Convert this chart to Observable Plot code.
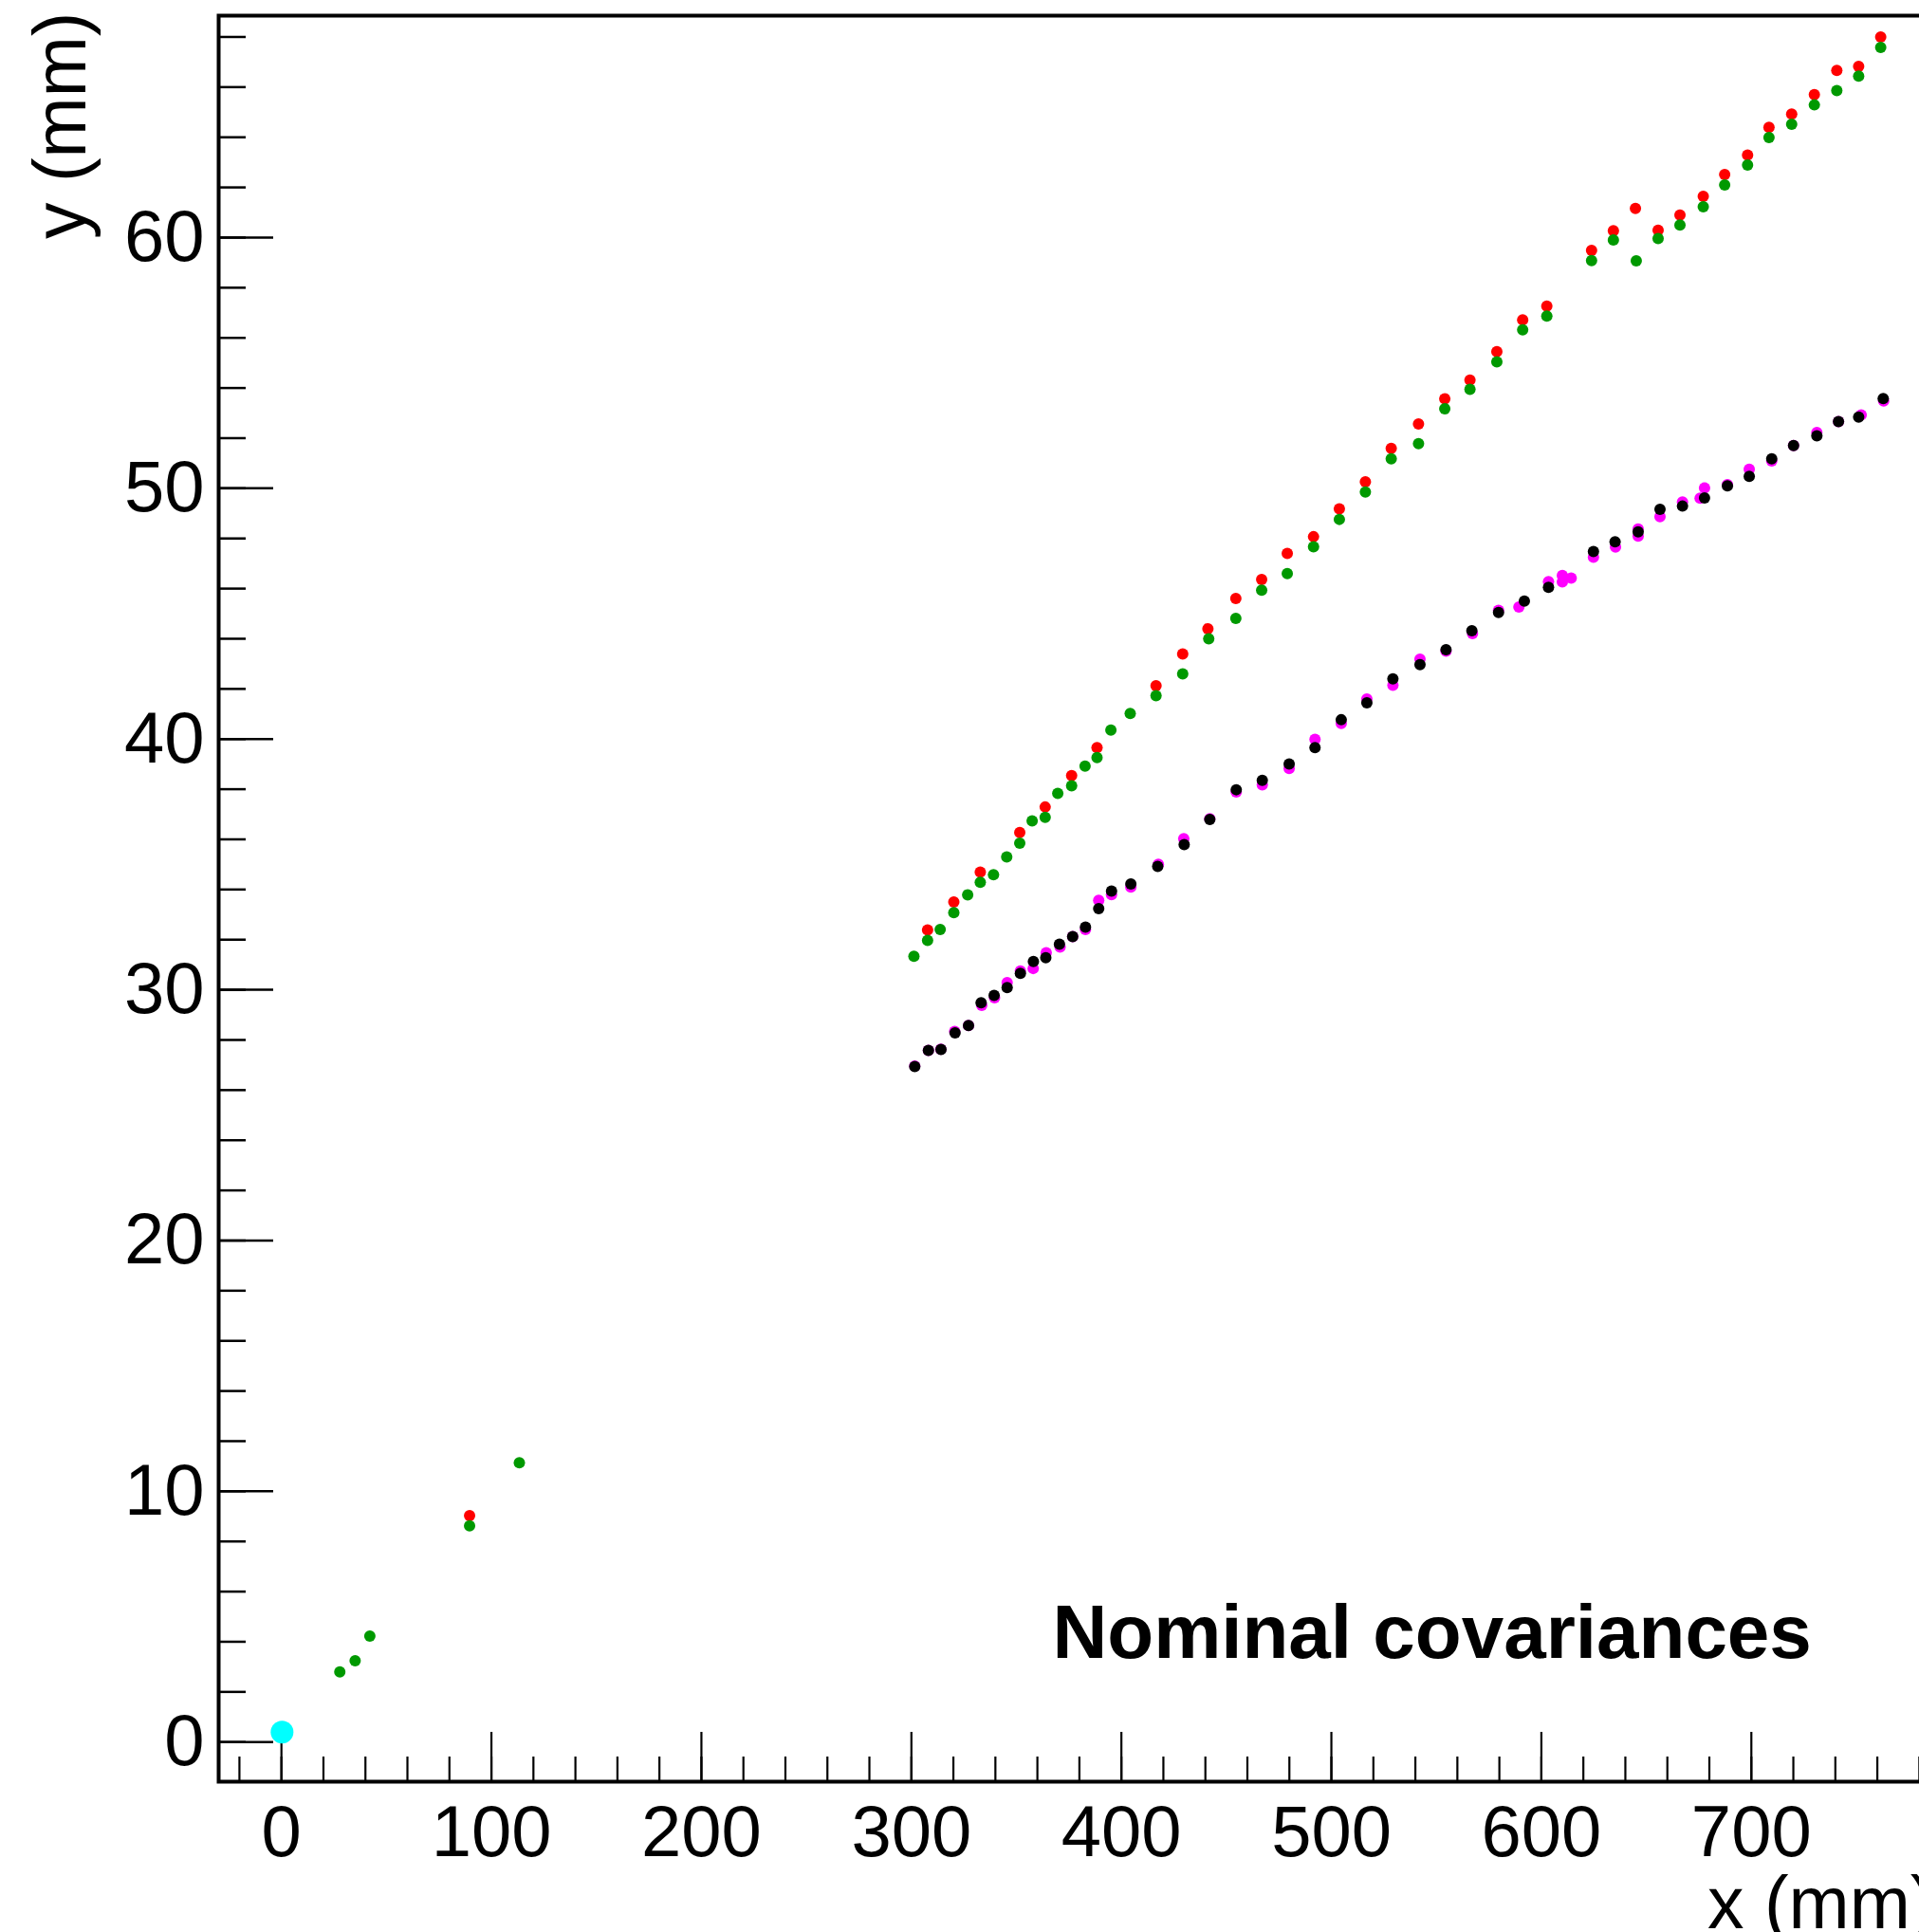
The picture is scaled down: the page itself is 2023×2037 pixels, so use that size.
<!DOCTYPE html>
<html>
<head>
<meta charset="utf-8">
<script src="https://cdn.jsdelivr.net/npm/d3@7"></script>
<script src="https://cdn.jsdelivr.net/npm/@observablehq/plot@0.6"></script>
<style>
  html, body { margin: 0; padding: 0; background: #ffffff; overflow: hidden; }
  #chart svg { display: block; }
</style>
</head>
<body>
<div id="chart"></div>
<script>
// ---- data ----
const vertexX = [0.3];
const vertexY = [0.40];

const redX = [89.6, 307.7, 320.2, 332.8, 351.6, 363.7, 376.3, 388.4, 416.5, 429.2, 441.2, 454.5, 466.8, 479.0, 491.5, 503.8, 516.2, 528.5, 541.5, 554.0, 566.0, 578.8, 591.1, 602.6, 623.9, 634.3, 644.8, 655.6, 666.0, 677.1, 687.3, 698.2, 708.4, 719.2, 730.0, 740.7, 751.1, 761.6];
const redY = [9.03, 32.39, 33.50, 34.69, 36.27, 37.29, 38.54, 39.66, 42.13, 43.39, 44.40, 45.61, 46.36, 47.40, 48.07, 49.18, 50.26, 51.59, 52.57, 53.57, 54.32, 55.45, 56.72, 57.27, 59.49, 60.27, 61.16, 60.29, 60.90, 61.64, 62.51, 63.29, 64.40, 64.93, 65.70, 66.67, 66.83, 68.00];

const greenX = [27.8, 35.1, 42.1, 89.6, 113.3, 301.2, 307.7, 313.7, 320.2, 326.8, 332.8, 339.1, 345.4, 351.6, 357.5, 363.7, 369.7, 376.3, 382.7, 388.4, 395.0, 404.2, 416.5, 429.2, 441.6, 454.5, 466.8, 479.0, 491.5, 503.8, 516.2, 528.5, 541.5, 554.0, 566.0, 578.8, 591.1, 602.6, 623.9, 634.3, 645.2, 655.6, 666.0, 677.1, 687.3, 698.2, 708.4, 719.2, 730.0, 740.7, 751.1, 761.6];
const greenY = [2.80, 3.24, 4.23, 8.62, 11.14, 31.34, 31.97, 32.41, 33.08, 33.79, 34.29, 34.59, 35.30, 35.85, 36.74, 36.88, 37.83, 38.14, 38.92, 39.26, 40.36, 41.02, 41.73, 42.60, 44.00, 44.81, 45.94, 46.60, 47.67, 48.76, 49.85, 51.18, 51.78, 53.17, 53.95, 55.04, 56.32, 56.87, 59.08, 59.90, 59.07, 59.96, 60.50, 61.23, 62.10, 62.89, 63.99, 64.52, 65.29, 65.86, 66.44, 67.58];

const magentaX = [301.6, 308.1, 314.0, 320.6, 327.2, 333.5, 339.6, 345.6, 351.9, 358.0, 364.2, 370.8, 376.8, 382.9, 389.2, 395.3, 404.5, 417.6, 429.7, 442.1, 454.7, 467.1, 479.9, 492.2, 504.7, 516.9, 529.3, 542.2, 554.6, 567.2, 579.6, 589.3, 603.4, 610.0, 610.0, 614.2, 624.8, 635.3, 646.1, 646.1, 656.5, 667.2, 675.6, 677.7, 688.6, 699.0, 709.7, 720.1, 731.2, 741.5, 752.3, 763.0];
const magentaY = [26.96, 27.58, 27.63, 28.34, 28.58, 29.38, 29.68, 30.29, 30.75, 30.85, 31.48, 31.71, 32.12, 32.41, 33.57, 33.80, 34.10, 35.01, 36.03, 36.82, 37.89, 38.17, 38.83, 39.99, 40.62, 41.60, 42.15, 43.19, 43.51, 44.21, 45.13, 45.27, 46.28, 46.52, 46.27, 46.42, 47.25, 47.66, 48.38, 48.09, 48.87, 49.46, 49.61, 50.01, 50.15, 50.76, 51.09, 51.71, 52.23, 52.66, 52.93, 53.48];

const blackX = [301.6, 308.1, 314.1, 320.8, 327.2, 333.2, 339.4, 345.6, 351.9, 358.1, 364.0, 370.5, 376.8, 382.9, 389.2, 395.3, 404.5, 417.3, 429.9, 442.1, 454.7, 467.1, 479.9, 492.2, 504.7, 516.9, 529.3, 542.2, 554.6, 566.9, 579.6, 591.9, 603.4, 624.8, 635.1, 646.1, 656.5, 667.2, 677.7, 688.6, 699.0, 709.7, 720.1, 731.2, 741.5, 751.1, 762.8];
const blackY = [26.94, 27.58, 27.62, 28.28, 28.58, 29.48, 29.78, 30.09, 30.66, 31.13, 31.28, 31.82, 32.12, 32.50, 33.24, 33.94, 34.22, 34.92, 35.79, 36.79, 37.98, 38.35, 39.01, 39.66, 40.77, 41.45, 42.40, 42.97, 43.56, 44.32, 45.05, 45.50, 46.05, 47.48, 47.87, 48.26, 49.16, 49.29, 49.62, 50.10, 50.48, 51.18, 51.71, 52.09, 52.66, 52.84, 53.58];

const xMajorTicks = [0, 100, 200, 300, 400, 500, 600, 700];
const xMinorTicks = d3.range(-20, 790, 20);
const yMajorTicks = [0, 10, 20, 30, 40, 50, 60];
const yMinorTicks = d3.range(0, 69, 2);
const xDomain = [-29.9, 790];
const yDomain = [-1.58, 68.85];

const label = "Nominal covariances";
const xTitle = "x (mm)";
const yTitle = "y (mm)";

// ---- build ----
const pts = (xs, ys) => xs.map((x, i) => ({x, y: ys[i]}));
const W = 2023, H = 2037;
const mL = 230, mT = 16, mB = 159, mR = -22;
const frameW = W - mL - mR;   // 1815
const frameH = H - mT - mB;   // 1862
const font = "'Liberation Sans', Arial, Helvetica, sans-serif";

const chart = Plot.plot({
  width: W,
  height: H,
  marginLeft: mL,
  marginTop: mT,
  marginBottom: mB,
  marginRight: mR,
  style: {fontFamily: font, fontSize: "77px", color: "#000", background: "#fff"},
  x: {domain: xDomain},
  y: {domain: yDomain},
  marks: [
    // inward ticks
    Plot.tickY(yMajorTicks, {y: d => d, insetRight: frameW - 58, stroke: "#000", strokeWidth: 2.5}),
    Plot.tickY(yMinorTicks, {y: d => d, insetRight: frameW - 29, stroke: "#000", strokeWidth: 2.5}),
    Plot.tickX(xMajorTicks, {x: d => d, insetTop: frameH - 52, stroke: "#000", strokeWidth: 2.2}),
    Plot.tickX(xMinorTicks, {x: d => d, insetTop: frameH - 26, stroke: "#000", strokeWidth: 2.2}),
    Plot.frame({stroke: "#000", strokeWidth: 4}),
    Plot.axisX({ticks: xMajorTicks, tickSize: 0, tickPadding: 25, label: null, tickFormat: d3.format("d"), fontSize: 76}),
    Plot.axisY({ticks: yMajorTicks, tickSize: 0, tickPadding: 15, label: null, tickFormat: d3.format("d"), fontSize: 76}),
    // data
    Plot.dot(pts(vertexX, vertexY), {x: "x", y: "y", r: 12, fill: "#00ffff"}),
    Plot.dot(pts(redX, redY), {x: "x", y: "y", r: 6, fill: "#ff0000"}),
    Plot.dot(pts(greenX, greenY), {x: "x", y: "y", r: 6, fill: "#009900"}),
    Plot.dot(pts(magentaX, magentaY), {x: "x", y: "y", r: 6, fill: "#ff00ff"}),
    Plot.dot(pts(blackX, blackY), {x: "x", y: "y", r: 6, fill: "#000000"}),
    // texts
    Plot.text([label], {text: d => d, frameAnchor: "bottom-left", textAnchor: "start", lineAnchor: "bottom",
      dx: 879, dy: -131, fontSize: 80, fontWeight: "bold", fill: "#000"}),
    Plot.text([xTitle], {text: d => d, frameAnchor: "bottom-right", textAnchor: "end", lineAnchor: "bottom",
      dx: -6, dy: 154, fontSize: 77, fill: "#000"}),
    Plot.text([yTitle], {text: d => d, frameAnchor: "top-left", textAnchor: "end", lineAnchor: "bottom",
      rotate: -90, dx: -141, dy: -4, fontSize: 77, fill: "#000"})
  ]
});
document.getElementById("chart").appendChild(chart);
</script>
</body>
</html>
